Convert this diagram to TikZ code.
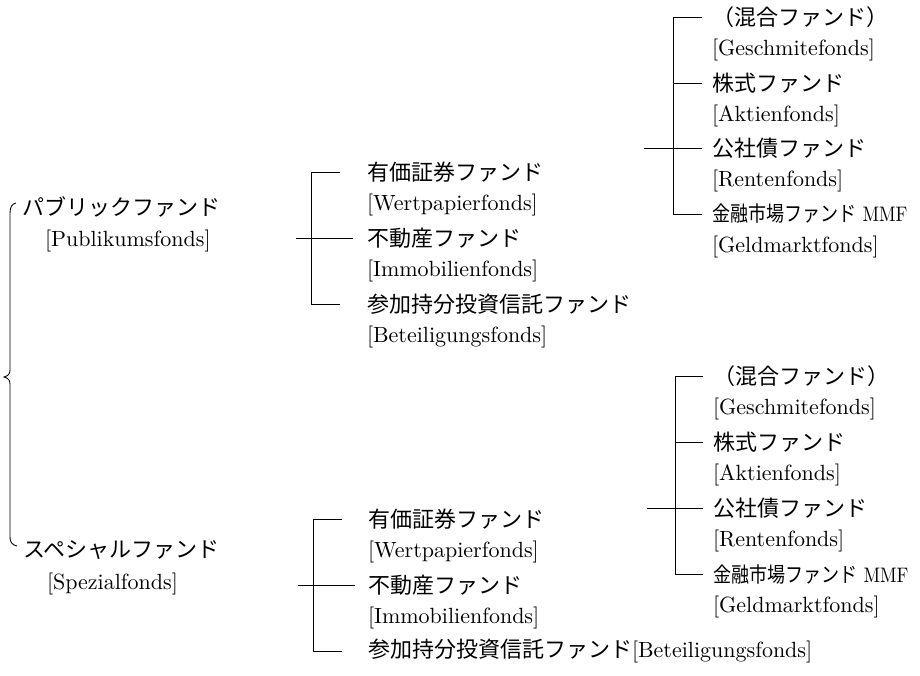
\documentclass[tikz,border=0pt]{standalone}
\usepackage{fontspec}
\setmainfont{lmroman10-regular.otf}
\newfontfamily\jp{Noto Sans CJK JP}
\begin{document}
\begin{tikzpicture}[x=1pt,y=-1pt,
  lab/.style={anchor=west,inner sep=0pt,outer sep=0pt,font=\fontsize{22}{26}\selectfont},
  br/.style={line width=1pt,draw=black}]
\useasboundingbox (0,0) rectangle (920,675);

% left labels
\node[lab] (pub)   at (22,207) {\jp パブリックファンド};
\node[lab] (pubde) at (45,241) {[Publikumsfonds]};
\node[lab] (spe)   at (23,550) {\jp スペシャルファンド};
\node[lab] (spede) at (47,584) {[Spezialfonds]};

% brace
\coordinate (bt) at (16,203);
\coordinate (bm) at (4,377);
\coordinate (bb) at (17,546);
\draw[br,line width=0.9pt] (bt) .. controls (12,204) and (10,207) .. (10,213)
  -- (10,370) .. controls (10,374) and (8,376) .. (bm)
  .. controls (8,378) and (10,380) .. (10,384)
  -- (10,537) .. controls (10,542) and (12,545) .. (bb);

% middle top group
\node[lab] (mt1) at (367,172) {\jp 有価証券ファンド};
\node[lab] (mt2) at (367,205) {[Wertpapierfonds]};
\node[lab] (mt3) at (367,238) {\jp 不動産ファンド};
\node[lab] (mt4) at (367,271) {[Immobilienfonds]};
\node[lab] (mt5) at (367,304) {\jp 参加持分投資信託ファンド};
\node[lab] (mt6) at (367,337) {[Beteiligungsfonds]};
\coordinate (mts) at (311,0);
\coordinate (mtx) at (296,0);
\draw[br] ([xshift=-27pt]mt1.west) -- (mt1.west -| mts) -- (mt5.west -| mts) -- ([xshift=-27pt]mt5.west);
\draw[br] (mt3.west -| mtx) -- ([xshift=-14pt]mt3.west);

% middle bottom group
\node[lab] (mb1) at (368,519) {\jp 有価証券ファンド};
\node[lab] (mb2) at (368,552) {[Wertpapierfonds]};
\node[lab] (mb3) at (368,585) {\jp 不動産ファンド};
\node[lab] (mb4) at (368,618) {[Immobilienfonds]};
\node[lab] (mb5) at (368,651) {{\jp 参加持分投資信託ファンド}[Beteiligungsfonds]};
\coordinate (mbs) at (313,0);
\coordinate (mbx) at (298,0);
\draw[br] ([xshift=-26pt]mb1.west) -- (mb1.west -| mbs) -- (mb5.west -| mbs) -- ([xshift=-26pt]mb5.west);
\draw[br] (mb3.west -| mbx) -- ([xshift=-13pt]mb3.west);

% right top group
\node[lab] (rt1) at (712,17)  {\jp （混合ファンド）};
\node[lab] (rt2) at (712,50)  {[Geschmitefonds]};
\node[lab] (rt3) at (712,83)  {\jp 株式ファンド};
\node[lab] (rt4) at (712,116) {[Aktienfonds]};
\node[lab] (rt5) at (712,148) {\jp 公社債ファンド};
\node[lab] (rt6) at (712,181) {[Rentenfonds]};
\node[lab] (rt7) at (712,214) {\fontsize{21}{25}\selectfont\scalebox{0.86}[1]{{\jp 金融市場ファンド} MMF}};
\node[lab] (rt8) at (712,247) {[Geldmarktfonds]};
\coordinate (rts) at (673,0);
\coordinate (rtx) at (644,0);
\draw[br] ([xshift=-10pt]rt1.west) -- (rt1.west -| rts) -- (rt7.west -| rts) -- ([xshift=-10pt]rt7.west);
\draw[br] (rt3.west -| rts) -- ([xshift=-10pt]rt3.west);
\draw[br] (rt5.west -| rtx) -- ([xshift=-10pt]rt5.west);

% right bottom group
\node[lab] (rb1) at (713,376) {\jp （混合ファンド）};
\node[lab] (rb2) at (713,409) {[Geschmitefonds]};
\node[lab] (rb3) at (713,442) {\jp 株式ファンド};
\node[lab] (rb4) at (713,475) {[Aktienfonds]};
\node[lab] (rb5) at (713,508) {\jp 公社債ファンド};
\node[lab] (rb6) at (713,541) {[Rentenfonds]};
\node[lab] (rb7) at (713,574) {\fontsize{21}{25}\selectfont\scalebox{0.86}[1]{{\jp 金融市場ファンド} MMF}};
\node[lab] (rb8) at (713,607) {[Geldmarktfonds]};
\coordinate (rbs) at (675,0);
\coordinate (rbx) at (647,0);
\draw[br] ([xshift=-10pt]rb1.west) -- (rb1.west -| rbs) -- (rb7.west -| rbs) -- ([xshift=-10pt]rb7.west);
\draw[br] (rb3.west -| rbs) -- ([xshift=-10pt]rb3.west);
\draw[br] (rb5.west -| rbx) -- ([xshift=-10pt]rb5.west);
\end{tikzpicture}
\end{document}
